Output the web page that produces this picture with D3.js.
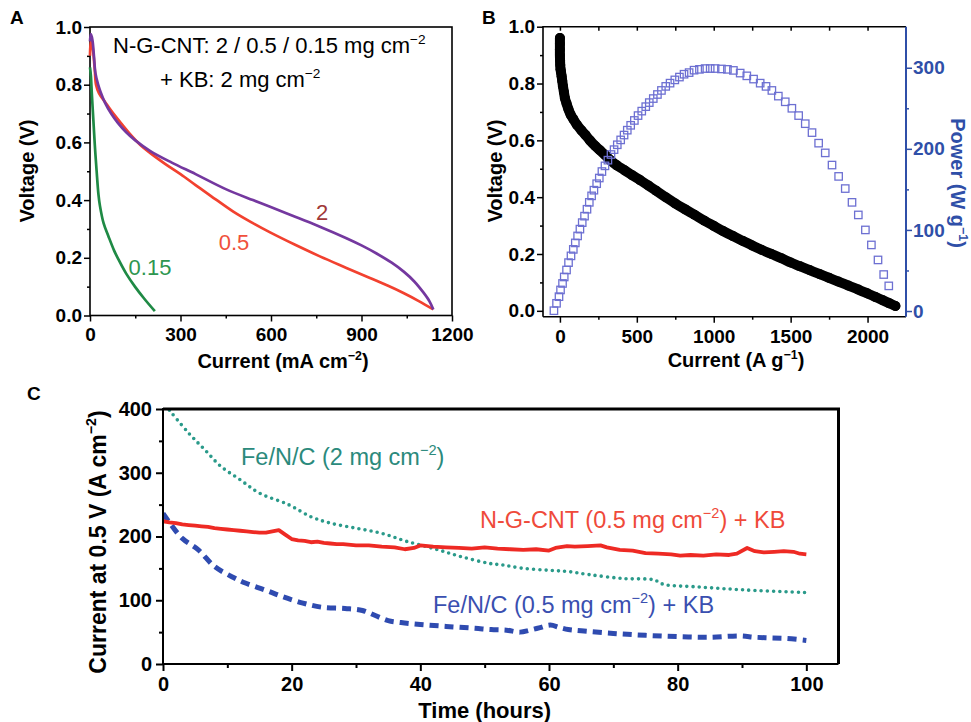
<!DOCTYPE html>
<html>
<head>
<meta charset="utf-8">
<script src="https://cdn.jsdelivr.net/npm/d3@7"></script>
<style>
  body { margin: 0; background: #ffffff; }
  svg { display: block; }
  text { font-family: "Liberation Sans", Arial, Helvetica, sans-serif; }
</style>
</head>
<body>
<svg id="fig" width="971" height="722"></svg>
<script>
// ---------- Panel A: polarization curves, N-G-CNT at three loadings ----------
const aCurrent2 = [0, 3, 8, 13, 18, 27, 35, 50, 70, 93, 120, 149, 200, 271, 350, 450, 540, 597, 680, 762, 850, 900, 950, 1000, 1040, 1075, 1105, 1125, 1138];
const aVoltage2 = [0.95, 0.975, 0.955, 0.90, 0.84, 0.80, 0.775, 0.737, 0.70, 0.667, 0.635, 0.608, 0.57, 0.53, 0.49, 0.438, 0.40, 0.377, 0.342, 0.308, 0.268, 0.243, 0.215, 0.183, 0.152, 0.118, 0.08, 0.05, 0.021];
const aCurrent05 = [0, 3, 7, 11, 16, 20, 30, 50, 70, 100, 130, 166, 200, 250, 300, 350, 400, 475, 540, 597, 680, 762, 850, 928, 990, 1039, 1090, 1138];
const aVoltage05 = [0.90, 0.95, 0.94, 0.91, 0.85, 0.80, 0.77, 0.74, 0.71, 0.67, 0.632, 0.592, 0.563, 0.525, 0.49, 0.452, 0.415, 0.36, 0.32, 0.288, 0.245, 0.205, 0.165, 0.13, 0.102, 0.078, 0.05, 0.021];
const aCurrent015 = [0, 3, 6, 11, 16, 22, 28, 33, 45, 61, 80, 94, 120, 149, 180, 215];
const aVoltage015 = [0.86, 0.83, 0.77, 0.68, 0.59, 0.50, 0.42, 0.38, 0.32, 0.275, 0.225, 0.195, 0.145, 0.10, 0.058, 0.015];
const aXTicks = [0, 300, 600, 900, 1200];
const aYTicks = [0, 0.2, 0.4, 0.6, 0.8, 1.0];

// ---------- Panel B: voltage and power vs. mass-specific current ----------
const bCurrent = [0, 0, 0, 0, 1, 2, 4, 7, 11, 15, 20, 26, 33, 43, 55, 70, 87, 110, 140, 165, 195, 230, 260, 295, 326, 370, 420, 470, 521, 575, 625, 690, 750, 815, 875, 940, 1000, 1060, 1125, 1190, 1250, 1310, 1375, 1440, 1500, 1560, 1625, 1690, 1750, 1810, 1875, 1940, 2000, 2050, 2100, 2140, 2181];
const bVoltage = [0.96, 0.94, 0.92, 0.90, 0.88, 0.865, 0.85, 0.84, 0.826, 0.81, 0.79, 0.77, 0.748, 0.73, 0.71, 0.69, 0.675, 0.655, 0.635, 0.62, 0.60, 0.58, 0.565, 0.548, 0.531, 0.512, 0.495, 0.477, 0.46, 0.441, 0.423, 0.399, 0.378, 0.357, 0.338, 0.317, 0.299, 0.281, 0.263, 0.246, 0.23, 0.215, 0.20, 0.185, 0.17, 0.157, 0.143, 0.129, 0.116, 0.103, 0.089, 0.075, 0.061, 0.049, 0.037, 0.027, 0.017];
const bPowerCurrent = [-39, -22, -6, 4, 17, 28, 43, 56, 72, 87, 100, 115, 130, 145, 160, 176, 191, 206, 221, 239, 256, 273, 293, 312, 332, 352, 373, 395, 417, 438, 460, 484, 508, 532, 558, 581, 607, 634, 660, 688, 716, 747, 777, 807, 840, 872, 907, 944, 977, 1009, 1050, 1089, 1128, 1172, 1215, 1259, 1302, 1340, 1378, 1420, 1465, 1508, 1552, 1595, 1639, 1682, 1725, 1769, 1812, 1855, 1899, 1940, 1986, 2025, 2068, 2105, 2138];
const bPower = [0.4, 9.5, 17.7, 26, 34, 42, 50.6, 59.7, 68, 76, 84, 92.6, 101, 109, 117, 125.5, 134, 142, 149, 157, 164, 172, 179, 186, 193, 199, 205, 211, 217, 223, 229, 235, 241, 246.5, 252, 257, 262, 267, 272, 277, 281, 285, 288.5, 292, 294, 297, 298, 299, 299, 299, 298.5, 298, 296.7, 293.4, 290, 286, 281, 277, 272, 265, 258, 250, 241, 231, 220, 207, 195, 180, 166, 151, 134, 118.5, 100, 81.5, 63, 45, 31];
const bXTicks = [0, 500, 1000, 1500, 2000];
const bYTicks = [0, 0.2, 0.4, 0.6, 0.8, 1.0];
const bPowerTicks = [0, 100, 200, 300];

// ---------- Panel C: durability at 0.5 V over 100 h ----------
const cTimeNG = [0, 1, 2, 3, 4, 5, 6, 7, 8, 9, 10, 11, 12, 13, 14, 15, 16, 17, 18, 19, 20, 21, 22, 23, 24, 25, 26, 27, 28, 30, 32, 34, 36, 37.6, 39, 40, 42, 44, 46, 48, 50, 52, 54, 56, 58, 60, 61, 62.8, 64, 66, 68, 69, 71, 73, 75, 77, 79, 80.4, 82, 84, 86, 88, 89.2, 90.8, 92, 93.4, 95, 96.5, 98, 99, 100];
const cCurrentNG = [224, 222, 221, 219, 218, 217, 216, 215, 213, 212, 211, 210, 209, 208, 207, 206, 206, 208, 210, 203, 196, 194, 193, 191, 192, 190, 189, 188, 188, 186, 186, 184, 183, 180, 182, 186, 184, 183, 182, 181, 183, 181, 180, 179, 180, 178, 182, 185, 184, 185, 186, 183, 179, 178, 174, 173, 172, 170, 171, 170, 172, 171, 173, 182, 177, 175, 176, 177, 176, 173, 172];
const cTimeFe2 = [1, 4, 6.5, 9, 12, 15, 19.5, 23, 26, 30, 34, 38, 42.8, 46.5, 50.6, 53, 56, 60, 63, 66.4, 71.6, 76.3, 77.8, 83, 90.8, 100];
const cCurrentFe2 = [398, 362, 336, 310, 289, 268, 250, 231, 221, 213, 205, 192, 179, 168, 158, 155, 150, 147, 145, 140, 134, 132, 125, 121, 116, 112];
const cTimeFe05 = [0, 1, 3, 5.5, 8, 10.7, 12.8, 15.9, 18.5, 21.6, 24.7, 28.3, 31, 33, 35, 37, 40, 44, 48.5, 51, 53.4, 55.5, 57, 58.6, 60.2, 61.7, 63, 65, 70, 75, 80, 85, 89.7, 92, 94.4, 97, 100];
const cCurrentFe05 = [236, 222, 197, 179, 153, 137, 127, 116, 106, 96, 89, 87, 84, 76, 68, 65, 62, 59, 56, 54, 53, 50, 53, 57, 61, 57, 54, 52, 48, 45, 43, 42, 44, 42, 41, 40, 37];
const cXTicks = [0, 20, 40, 60, 80, 100];
const cYTicks = [0, 100, 200, 300, 400];

// ---------- shared helpers ----------
const svg = d3.select("#fig");
const TICK_FS = 19, NOTE_FS = 22;

// Text with superscript parts: plain strings, or [string] for a raised part.
function rich(parent, x, y, parts, fs) {
  const t = parent.append("text").attr("x", x).attr("y", y).style("font-size", fs + "px");
  let raised = false;
  parts.forEach(p => {
    const sup = Array.isArray(p);
    const s = t.append("tspan").text(sup ? p[0] : p);
    if (sup) { s.style("font-size", (fs * 0.62) + "px").attr("dy", -fs * 0.42); raised = true; }
    else if (raised) { s.attr("dy", fs * 0.42); raised = false; }
  });
  return t;
}

function minorBetween(ticks, n) {
  const out = [];
  for (let i = 0; i < ticks.length - 1; i++) {
    const step = (ticks[i + 1] - ticks[i]) / n;
    for (let k = 1; k < n; k++) out.push(ticks[i] + k * step);
  }
  return out;
}

function styleAxis(g, color, width, fs) {
  g.select(".domain").remove();
  g.selectAll("line").attr("stroke", color).attr("stroke-width", width);
  g.selectAll("text").style("font-size", (fs || TICK_FS) + "px").style("font-weight", "bold").attr("fill", color);
}

function panelLetter(x, y, s) {
  svg.append("text").attr("x", x).attr("y", y).text(s)
    .style("font-size", "19px").style("font-weight", "bold");
}

// ================= Panel A =================
(function () {
  const L = 90, R = 452, T = 27, B = 315.5;
  const x = d3.scaleLinear([0, 1200], [L, R]);
  const y = d3.scaleLinear([0, 1], [B, T]);
  const g = svg.append("g");

  g.append("g").attr("transform", `translate(0,${B})`)
    .call(d3.axisBottom(x).tickValues(minorBetween(aXTicks, 2)).tickSize(3).tickFormat(""))
    .call(a => styleAxis(a, "#000", 1.5));
  g.append("g").attr("transform", `translate(${L},0)`)
    .call(d3.axisLeft(y).tickValues(minorBetween(aYTicks, 2)).tickSize(3).tickFormat(""))
    .call(a => styleAxis(a, "#000", 1.5));
  g.append("g").attr("transform", `translate(0,${B})`)
    .call(d3.axisBottom(x).tickValues(aXTicks).tickSize(6).tickPadding(6).tickFormat(d3.format("d")))
    .call(a => styleAxis(a, "#000", 1.5));
  g.append("g").attr("transform", `translate(${L},0)`)
    .call(d3.axisLeft(y).tickValues(aYTicks).tickSize(6).tickPadding(2).tickFormat(d3.format(".1f")))
    .call(a => styleAxis(a, "#000", 1.5));

  g.append("rect").attr("x", L).attr("y", T).attr("width", R - L).attr("height", B - T)
    .attr("fill", "none").attr("stroke", "#000").attr("stroke-width", 1.6);

  const line = d3.line().x(d => x(d[0])).y(d => y(d[1])).curve(d3.curveCatmullRom.alpha(0.5));
  const series = [
    [aCurrent015, aVoltage015, "#1f8a45"],
    [aCurrent05, aVoltage05, "#f2412f"],
    [aCurrent2, aVoltage2, "#74389f"]
  ];
  series.forEach(([xs, ys, c]) => {
    g.append("path").datum(xs.map((v, i) => [v, ys[i]]))
      .attr("d", line).attr("fill", "none").attr("stroke", c)
      .attr("stroke-width", 2.7).attr("stroke-linejoin", "round");
  });

  rich(g, 113, 53, ["N-G-CNT: 2 / 0.5 / 0.15 mg cm", ["−2"]], NOTE_FS);
  rich(g, 160, 87, ["+ KB: 2 mg cm", ["−2"]], NOTE_FS);

  g.append("text").attr("x", 322).attr("y", 220).attr("text-anchor", "middle")
    .style("font-size", NOTE_FS + "px").attr("fill", "#a03838").text("2");
  g.append("text").attr("x", 234).attr("y", 250).attr("text-anchor", "middle")
    .style("font-size", NOTE_FS + "px").attr("fill", "#f0503c").text("0.5");
  g.append("text").attr("x", 150).attr("y", 275).attr("text-anchor", "middle")
    .style("font-size", NOTE_FS + "px").attr("fill", "#2e9650").text("0.15");

  rich(g, 283, 368, ["Current (mA cm", ["−2"], ")"], 20)
    .attr("text-anchor", "middle").style("font-weight", "bold");
  g.append("text").attr("transform", "translate(34,171) rotate(-90)")
    .attr("text-anchor", "middle").style("font-size", "20px").style("font-weight", "bold")
    .text("Voltage (V)");
})();

// ================= Panel B =================
(function () {
  const L = 543, R = 906, T = 26.7, B = 316.7;
  const x = d3.scaleLinear([-110, 2250], [L, R]);
  const yV = d3.scaleLinear([-0.0207, 1.0], [B, T]);
  const yP = d3.scaleLinear([-7, 350.6], [B, T]);
  const g = svg.append("g");
  const blue = "#2f4fa8";

  g.append("g").attr("transform", `translate(0,${B})`)
    .call(d3.axisBottom(x).tickValues(minorBetween(bXTicks, 2)).tickSize(3).tickFormat(""))
    .call(a => styleAxis(a, "#000", 1.5));
  g.append("g").attr("transform", `translate(0,${B})`)
    .call(d3.axisBottom(x).tickValues(bXTicks).tickSize(6).tickPadding(7).tickFormat(d3.format("d")))
    .call(a => styleAxis(a, "#000", 1.5));
  g.append("g").attr("transform", `translate(0,${T})`)
    .call(d3.axisBottom(x).tickValues(bXTicks.concat(minorBetween(bXTicks, 2))).tickSize(4).tickFormat(""))
    .call(a => styleAxis(a, "#000", 1.5));
  g.append("g").attr("transform", `translate(${L},0)`)
    .call(d3.axisLeft(yV).tickValues(minorBetween(bYTicks, 2)).tickSize(3).tickFormat(""))
    .call(a => styleAxis(a, "#000", 1.5));
  g.append("g").attr("transform", `translate(${L},0)`)
    .call(d3.axisLeft(yV).tickValues(bYTicks).tickSize(6).tickPadding(2).tickFormat(d3.format(".1f")))
    .call(a => styleAxis(a, "#000", 1.5));
  g.append("g").attr("transform", `translate(${R},0)`)
    .call(d3.axisRight(yP).tickValues(minorBetween(bPowerTicks, 2)).tickSize(3).tickFormat(""))
    .call(a => styleAxis(a, blue, 1.5));
  g.append("g").attr("transform", `translate(${R},0)`)
    .call(d3.axisRight(yP).tickValues(bPowerTicks).tickSize(6).tickPadding(1).tickFormat(d3.format("d")))
    .call(a => styleAxis(a, blue, 1.5));

  g.append("path").attr("d", `M${L},${B}V${T}H${R}`).attr("fill", "none").attr("stroke", "#000").attr("stroke-width", 1.6);
  g.append("path").attr("d", `M${L},${B}H${R}`).attr("fill", "none").attr("stroke", "#000").attr("stroke-width", 1.6);
  g.append("path").attr("d", `M${R},${T}V${B}`).attr("fill", "none").attr("stroke", blue).attr("stroke-width", 2);

  // voltage: dense filled circles
  const vPts = bCurrent.map((c, i) => [c, bVoltage[i]]);
  g.append("path").datum(vPts)
    .attr("d", d3.line().x(d => x(d[0])).y(d => yV(d[1])).curve(d3.curveCatmullRom.alpha(0.5)))
    .attr("fill", "none").attr("stroke", "#000").attr("stroke-width", 10)
    .attr("stroke-linejoin", "round").attr("stroke-linecap", "round");
  g.selectAll("circle.v").data(vPts).join("circle").attr("class", "v")
    .attr("cx", d => x(d[0])).attr("cy", d => yV(d[1])).attr("r", 5).attr("fill", "#000");

  // power: hollow squares
  const pPts = bPowerCurrent.map((c, i) => [c, bPower[i]]);
  const s = 7.4;
  g.selectAll("rect.p").data(pPts).join("rect").attr("class", "p")
    .attr("x", d => x(d[0]) - s / 2).attr("y", d => yP(d[1]) - s / 2)
    .attr("width", s).attr("height", s)
    .attr("fill", "none").attr("stroke", "#6d70d2").attr("stroke-width", 1.3);

  rich(g, 736, 367, ["Current (A g", ["−1"], ")"], 20)
    .attr("text-anchor", "middle").style("font-weight", "bold");
  g.append("text").attr("transform", "translate(502,171) rotate(-90)")
    .attr("text-anchor", "middle").style("font-size", "20px").style("font-weight", "bold")
    .text("Voltage (V)");
  rich(g, 0, 0, ["Power (W g", ["−1"], ")"], 20)
    .attr("transform", "translate(951,183) rotate(90)")
    .attr("text-anchor", "middle").style("font-weight", "bold").attr("fill", blue);
})();

// ================= Panel C =================
(function () {
  const L = 163, R = 838.5, T = 409, B = 664;
  const x = d3.scaleLinear([0, 105], [L, R]);
  const y = d3.scaleLinear([0, 400], [B, T]);
  const g = svg.append("g");

  g.append("g").attr("transform", `translate(0,${B})`)
    .call(d3.axisBottom(x).tickValues(minorBetween(cXTicks, 2)).tickSize(4).tickFormat(""))
    .call(a => styleAxis(a, "#000", 2));
  g.append("g").attr("transform", `translate(0,${B})`)
    .call(d3.axisBottom(x).tickValues(cXTicks).tickSize(7).tickPadding(6).tickFormat(d3.format("d")))
    .call(a => styleAxis(a, "#000", 2, 20));
  g.append("g").attr("transform", `translate(${L},0)`)
    .call(d3.axisLeft(y).tickValues(minorBetween(cYTicks, 2)).tickSize(4).tickFormat(""))
    .call(a => styleAxis(a, "#000", 2));
  g.append("g").attr("transform", `translate(${L},0)`)
    .call(d3.axisLeft(y).tickValues(cYTicks).tickSize(7).tickPadding(4).tickFormat(d3.format("d")))
    .call(a => styleAxis(a, "#000", 2, 20));

  g.append("clipPath").attr("id", "clipC").append("rect")
    .attr("x", L).attr("y", T).attr("width", R - L).attr("height", B - T);

  const line = d3.line().x(d => x(d[0])).y(d => y(d[1]));
  const plot = g.append("g").attr("clip-path", "url(#clipC)");

  plot.append("path").datum(cTimeFe2.map((t, i) => [t, cCurrentFe2[i]]))
    .attr("d", line.curve(d3.curveCatmullRom.alpha(0.5))).attr("fill", "none")
    .attr("stroke", "#2a9a8a").attr("stroke-width", 3.6)
    .attr("stroke-linecap", "round").attr("stroke-dasharray", "0,6.2");
  plot.append("path").datum(cTimeFe05.map((t, i) => [t, cCurrentFe05[i]]))
    .attr("d", line.curve(d3.curveCatmullRom.alpha(0.5))).attr("fill", "none")
    .attr("stroke", "#2f4bb0").attr("stroke-width", 5)
    .attr("stroke-dasharray", "9,6");
  plot.append("path").datum(cTimeNG.map((t, i) => [t, cCurrentNG[i]]))
    .attr("d", line.curve(d3.curveLinear)).attr("fill", "none")
    .attr("stroke", "#ee2a24").attr("stroke-width", 3.8).attr("stroke-linejoin", "round");

  g.append("path").attr("d", `M${L},${T}H${R}V${B}`).attr("fill", "none")
    .attr("stroke", "#000").attr("stroke-width", 3);
  g.append("path").attr("d", `M${L},${T - 1}V${B}H${R}`).attr("fill", "none")
    .attr("stroke", "#000").attr("stroke-width", 2);

  rich(g, 241, 465, ["Fe/N/C (2 mg cm", ["−2"], ")"], 23.5).attr("fill", "#2b8a7c");
  rich(g, 480, 528, ["N-G-CNT (0.5 mg cm", ["−2"], ") + KB"], 23.5).attr("fill", "#ef4a3a");
  rich(g, 433, 613, ["Fe/N/C (0.5 mg cm", ["−2"], ") + KB"], 23.5).attr("fill", "#3a4fb0");

  g.append("text").attr("x", (L + x(100)) / 2).attr("y", 718).attr("text-anchor", "middle")
    .style("font-size", "22px").style("font-weight", "bold").text("Time (hours)");
  rich(g, 0, 0, ["Current at 0.5 V (A cm", ["−2"], ")"], 23)
    .attr("transform", "translate(106,542) rotate(-90)")
    .attr("text-anchor", "middle").style("font-weight", "bold");
})();

panelLetter(10, 24, "A");
panelLetter(482, 24, "B");
panelLetter(27, 400, "C");
</script>
</body>
</html>
